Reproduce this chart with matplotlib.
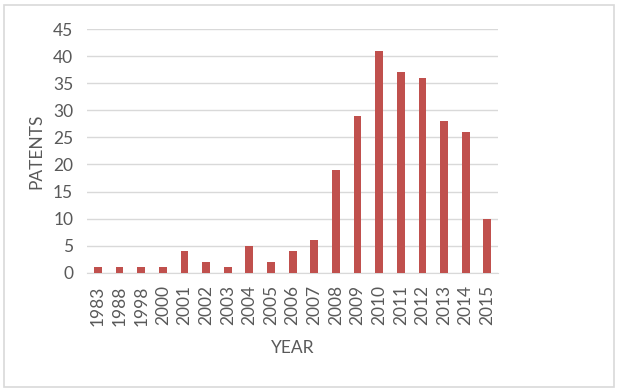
import matplotlib
matplotlib.use("Agg")
import matplotlib.pyplot as plt
from matplotlib.patches import Rectangle

years = ['1983', '1988', '1998', '2000', '2001', '2002', '2003', '2004', '2005', '2006',
         '2007', '2008', '2009', '2010', '2011', '2012', '2013', '2014', '2015']
patents = [1, 1, 1, 1, 4, 2, 1, 5, 2, 4, 6, 19, 29, 41, 37, 36, 28, 26, 10]

plt.rcParams['font.family'] = ['Lato', 'DejaVu Sans']
text_color = '#595959'

fig = plt.figure(figsize=(6.18, 3.92), dpi=100)
# light frame around the whole chart
fig.patches.append(Rectangle((0.006, 0.012), 0.988, 0.975, transform=fig.transFigure,
                             fill=False, edgecolor='#D9D9D9', linewidth=1.2))

ax = fig.add_axes([0.141, 0.304, 0.665, 0.622])
x = range(len(years))
ax.bar(x, patents, width=0.36, color='#C0504D', zorder=3)

ax.set_ylim(0, 45)
ax.set_yticks(range(0, 46, 5))
ax.set_xlim(-0.5, len(years) - 0.5)
ax.set_xticks(list(x))
ax.set_xticklabels(years, rotation=90)

ax.grid(axis='y', color='#D9D9D9', linewidth=1, zorder=0)
for side in ['top', 'right', 'left']:
    ax.spines[side].set_visible(False)
ax.spines['bottom'].set_color('#D9D9D9')
ax.tick_params(length=0, colors=text_color, labelsize=12.5)
ax.tick_params(axis='x', pad=9)
ax.tick_params(axis='y', pad=10)

ax.set_xlabel('YEAR', color=text_color, fontsize=12.5, labelpad=10)
ax.set_ylabel('PATENTS', color=text_color, fontsize=12.5, labelpad=6)

fig.savefig('out.png', dpi=100)
